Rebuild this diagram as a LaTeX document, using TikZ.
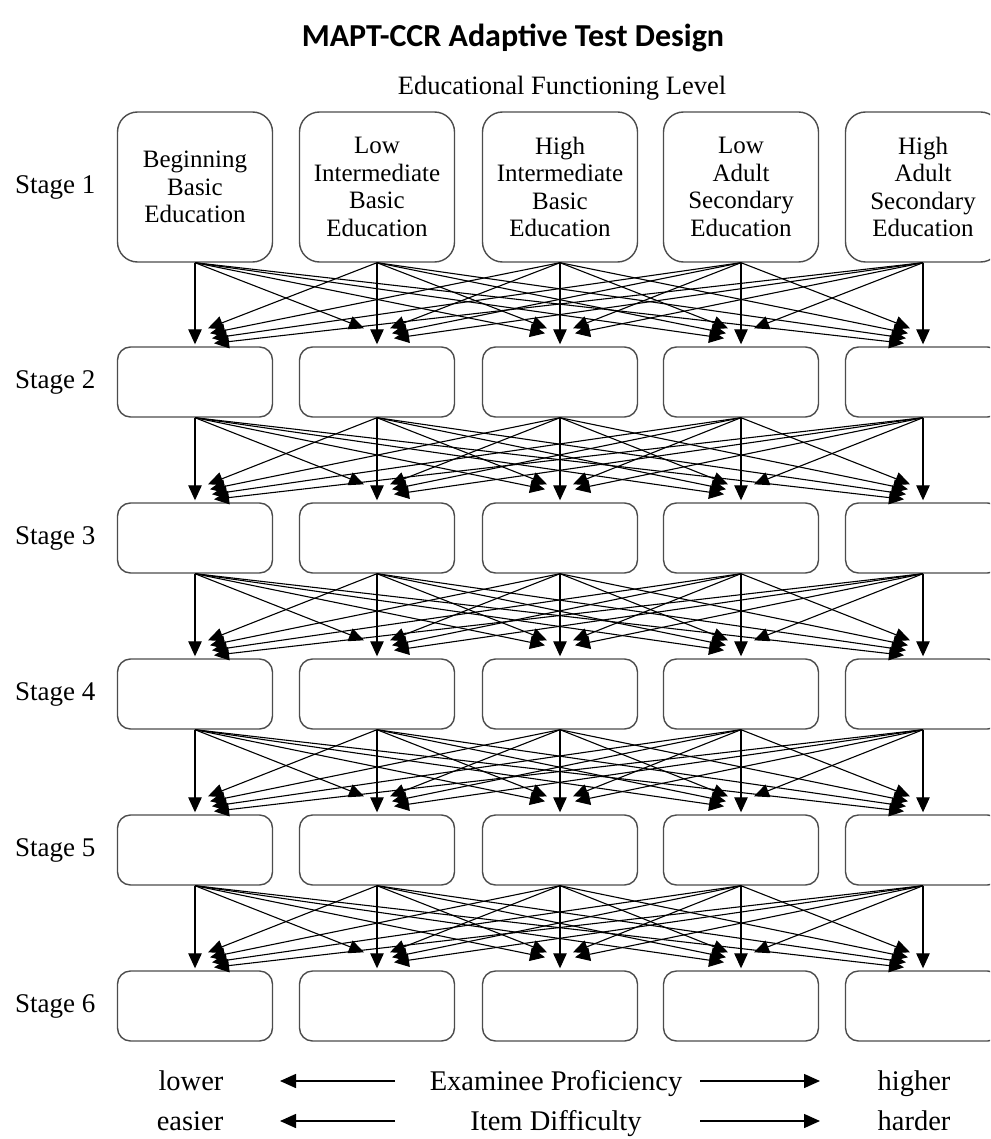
\documentclass[tikz,border=0pt]{standalone}
\usepackage{fontspec}
\setmainfont{Liberation Serif}
\newfontfamily\titlefont{Carlito}
\usetikzlibrary{arrows.meta}

\begin{document}
\begin{tikzpicture}[x=1pt, y=-1pt,
  levelbox/.style={draw=black!70, line width=1.4pt, rounded corners=20pt, minimum width=155pt, minimum height=150pt, inner sep=0pt, align=center, font=\fontsize{25}{27.5}\selectfont},
  stagebox/.style={draw=black!70, line width=1.4pt, rounded corners=13pt, minimum width=155pt, minimum height=70pt, inner sep=0pt},
  stagelabel/.style={anchor=west, inner sep=0pt, font=\fontsize{27}{30}\selectfont},
  scaletext/.style={anchor=base, inner sep=0pt, font=\fontsize{28.5}{32}\selectfont},
  flow/.style={-{Triangle[width=13.5pt,length=15pt]}, line width=1.1pt},
  scalearrow/.style={-{Triangle[width=14pt,length=16pt]}, line width=1.5pt}]
  \useasboundingbox (0,0) rectangle (990,1139);
  \clip (0,0) rectangle (990,1139);
  \fill[white] (0,0) rectangle (990,1139);

  \node (title) at (513,38) {\titlefont\bfseries\fontsize{32}{38}\selectfont MAPT-CCR Adaptive Test Design};
  \node (efl) at (562,88) {\fontsize{26.5}{30}\selectfont Educational Functioning Level};

  % stage 1: the five levels
  \foreach \i/\x/\txt in {1/195/{Beginning\\Basic\\Education},
                          2/377/{Low\\Intermediate\\Basic\\Education},
                          3/560/{High\\Intermediate\\Basic\\Education},
                          4/741/{Low\\Adult\\Secondary\\Education},
                          5/923/{High\\Adult\\Secondary\\Education}}
    \node[levelbox] (b-1-\i) at (\x,187) {\txt};
  \node[stagelabel] (st-1) at (15,187) {Stage 1};

  % stages 2 to 6
  \foreach \k/\y in {2/382,3/538,4/694,5/850,6/1006} {
    \node[stagelabel] (st-\k) at (15,\y) {Stage \k};
    \foreach \i/\x in {1/195,2/377,3/560,4/741,5/923}
      \node[stagebox] (b-\k-\i) at (\x,\y) {};
  }

  % routing between stages
  \foreach \k in {1,...,5}
    \foreach \i in {1,...,5}
      \foreach \j in {1,...,5} {
        \pgfmathtruncatemacro\n{\k+1}
        \pgfmathsetmacro\dx{sign(\i-\j)*(11+2*abs(\i-\j))}
        \pgfmathsetmacro\dy{\i==\j ? 2 : 23-5*abs(\i-\j)}
        \draw[flow] (b-\k-\i.south) -- ([xshift=\dx pt,yshift=\dy pt]b-\n-\j.north);
      }

  % proficiency and difficulty scales
  \node[scaletext] (lower) at (191,1090) {lower};
  \node[scaletext] (prof) at (556,1090) {Examinee Proficiency};
  \node[scaletext] (higher) at (914,1090) {higher};
  \node[scaletext] (easier) at (190,1130) {easier};
  \node[scaletext] (diff) at (556,1130) {Item Difficulty};
  \node[scaletext] (harder) at (914,1130) {harder};
  \coordinate (pl-a) at (395,1081);
  \coordinate (pl-b) at (280,1081);
  \coordinate (pr-a) at (700,1081);
  \coordinate (pr-b) at (820,1081);
  \coordinate (dl-a) at (395,1121);
  \coordinate (dl-b) at (280,1121);
  \coordinate (dr-a) at (700,1121);
  \coordinate (dr-b) at (820,1121);
  \draw[scalearrow] (pl-a) -- (pl-b);
  \draw[scalearrow] (pr-a) -- (pr-b);
  \draw[scalearrow] (dl-a) -- (dl-b);
  \draw[scalearrow] (dr-a) -- (dr-b);
\end{tikzpicture}
\end{document}
